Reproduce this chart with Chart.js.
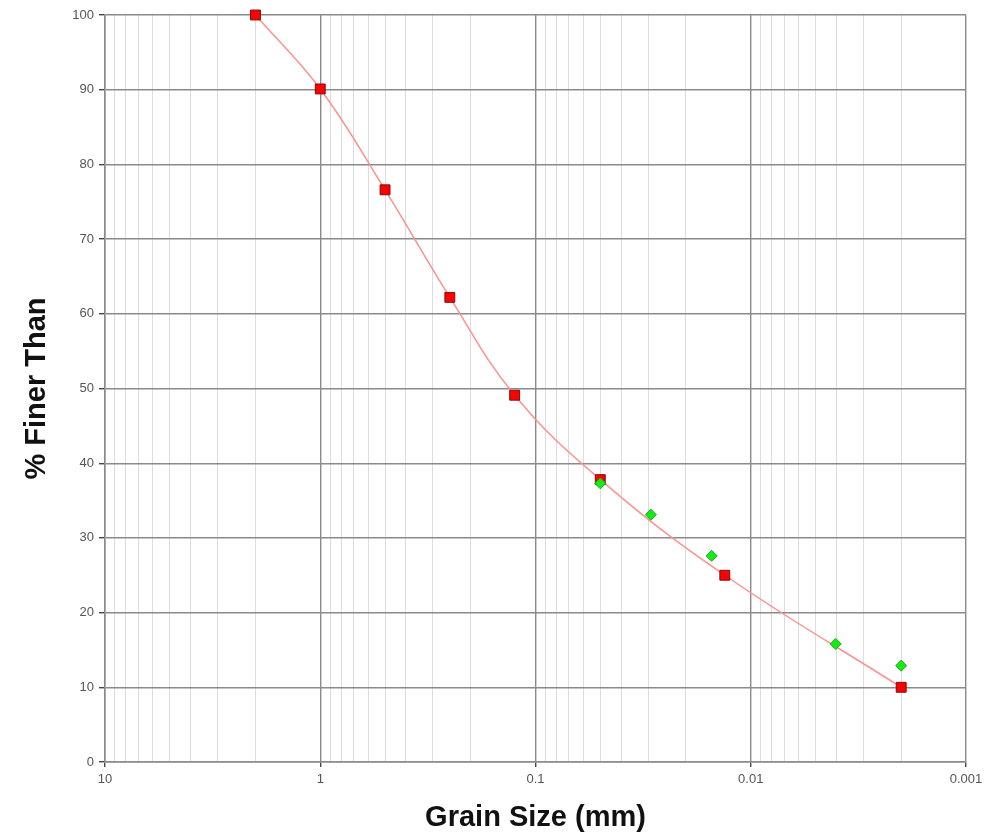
<!DOCTYPE html>
<html>
<head>
<meta charset="utf-8">
<script src="https://cdn.jsdelivr.net/npm/chart.js@4"></script>
<style>
	html, body { margin: 0; padding: 0; background: #fff; }
	#wrap { width: 1005px; height: 837px; }
</style>
</head>
<body>
<div id="wrap"><canvas id="grading-chart" width="1005" height="837"></canvas></div>
<script>
// sieve analysis (red squares, joined by a smooth curve)
const sieveSize = [2, 1, 0.5, 0.25, 0.125, 0.05, 0.0132, 0.002];
const sieveFiner = [100, 90.1, 76.6, 62.2, 49.1, 37.8, 25.0, 10.0];

// hydrometer readings (green diamonds)
const hydroSize = [0.05, 0.0291, 0.0152, 0.00403, 0.002];
const hydroFiner = [37.3, 33.1, 27.6, 15.8, 12.9];

const xDecades = [10, 1, 0.1, 0.01, 0.001];
const yTicks = [0, 10, 20, 30, 40, 50, 60, 70, 80, 90, 100];

const majorColor = '#8a8a8a', minorColor = '#dcdcdc', labelColor = '#555555';

function isDecade(v) {
	const e = Math.log10(v);
	return Math.abs(e - Math.round(e)) < 1e-6;
}

const ctx = document.getElementById('grading-chart');
new Chart(ctx, {
	type: 'scatter',
	data: {
		datasets: [{
			label: 'Sieve',
			data: sieveSize.map((x, i) => ({ x: x, y: sieveFiner[i] })),
			showLine: true,
			tension: 0.4,
			clip: false,
			borderColor: '#ff9090',
			borderWidth: 1.5,
			pointStyle: 'rect',
			pointRadius: 7,
			pointBackgroundColor: '#ff0000',
			pointBorderColor: '#7a1010',
			pointBorderWidth: 1,
			order: 2
		}, {
			label: 'Hydrometer',
			data: hydroSize.map((x, i) => ({ x: x, y: hydroFiner[i] })),
			showLine: false,
			clip: false,
			pointStyle: 'rectRot',
			pointRadius: 5.5,
			pointBackgroundColor: '#11ee11',
			pointBorderColor: '#22a022',
			pointBorderWidth: 1,
			order: 1
		}]
	},
	options: {
		responsive: false,
		animation: false,
		layout: { padding: { top: 15, right: 39, left: 20, bottom: 0 } },
		plugins: {
			legend: { display: false },
			tooltip: { enabled: false }
		},
		scales: {
			x: {
				type: 'logarithmic',
				reverse: true,
				min: 0.001,
				max: 10,
				afterBuildTicks: (scale) => {
					// keep 1..9 x 10^n so minor grid lines are drawn
					const ticks = [];
					for (let e = -3; e <= 0; e++)
						for (let s = 1; s < 10; s++)
							ticks.push({ value: s * Math.pow(10, e) });
					ticks.push({ value: 10 });
					scale.ticks = ticks;
				},
				afterFit: (scale) => { scale.height = 75; },
				border: { color: majorColor, width: 1.5 },
				grid: {
					color: (c) => isDecade(c.tick.value) ? majorColor : minorColor,
					lineWidth: (c) => isDecade(c.tick.value) ? 1.4 : 1,
					tickColor: (c) => isDecade(c.tick.value) ? '#444' : 'rgba(0,0,0,0)',
					tickLength: 5
				},
				ticks: {
					autoSkip: false,
					maxRotation: 0,
					padding: 5,
					color: labelColor,
					font: { family: 'Liberation Sans, Arial', size: 13 },
					callback: (v) => xDecades.includes(v) ? String(v) : ''
				},
				title: {
					display: true,
					text: 'Grain Size (mm)',
					color: '#111',
					padding: { top: 0, bottom: 2 },
					font: { family: 'Liberation Sans, Arial', size: 29, weight: 'bold' }
				}
			},
			y: {
				min: 0,
				max: 100,
				afterBuildTicks: (scale) => { scale.ticks = yTicks.map(v => ({ value: v })); },
				afterFit: (scale) => { scale.width = 85; },
				border: { color: majorColor, width: 1.5 },
				grid: {
					color: majorColor,
					lineWidth: 1.4,
					tickColor: '#444',
					tickLength: 6
				},
				ticks: {
					padding: 5,
					color: labelColor,
					font: { family: 'Liberation Sans, Arial', size: 13 }
				},
				title: {
					display: true,
					text: '% Finer Than',
					color: '#111',
					padding: { top: 0, bottom: 0 },
					font: { family: 'Liberation Sans, Arial', size: 29, weight: 'bold' }
				}
			}
		}
	}
});
</script>
</body>
</html>
